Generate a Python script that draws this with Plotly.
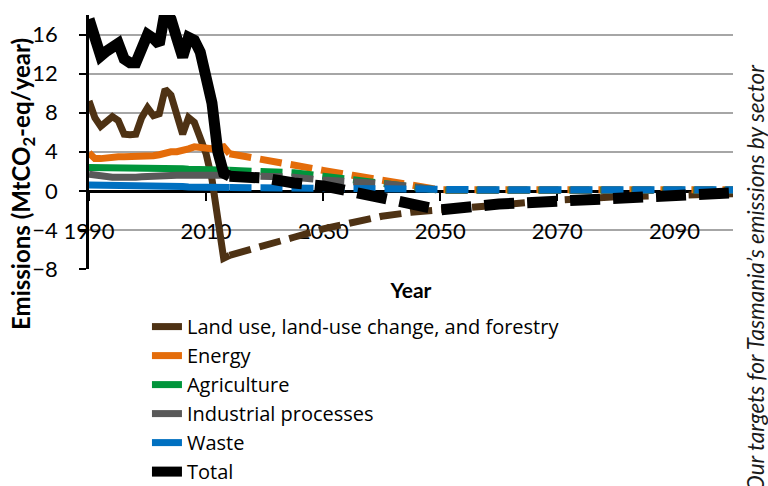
import plotly.graph_objects as go

# ---- data ----
hist_years = list(range(1990, 2015))
proj_years = [2014, 2020, 2025, 2030, 2035, 2040, 2045, 2050, 2060, 2070, 2080, 2090, 2100]

sectors = ["Land use, land-use change, and forestry", "Energy", "Agriculture",
           "Industrial processes", "Waste", "Total"]

lulucf_hist = [9.2, 7.5, 6.6, 7.1, 7.6, 7.2, 5.8, 5.75, 5.8, 7.5, 8.5, 7.7, 7.9, 10.4, 9.8,
               7.8, 5.8, 7.5, 7.0, 5.4, 3.8, 1.2, -3.0, -6.9, -6.6]
energy_hist = [3.9, 3.3, 3.3, 3.4, 3.4, 3.5, 3.5, 3.5, 3.5, 3.5, 3.5, 3.6, 3.7, 3.9, 4.0,
               4.0, 4.1, 4.3, 4.5, 4.4, 4.3, 4.3, 4.4, 4.5, 3.8]
agri_hist = [2.4, 2.4, 2.4, 2.4, 2.4, 2.4, 2.4, 2.35, 2.3, 2.3, 2.3, 2.3, 2.3, 2.3, 2.3,
             2.3, 2.25, 2.2, 2.2, 2.2, 2.2, 2.2, 2.2, 2.2, 2.1]
ind_hist = [1.7, 1.6, 1.5, 1.45, 1.4, 1.4, 1.35, 1.35, 1.4, 1.45, 1.5, 1.5, 1.55, 1.55, 1.6,
            1.6, 1.6, 1.6, 1.6, 1.6, 1.6, 1.6, 1.6, 1.6, 1.6]
waste_hist = [0.6, 0.6, 0.6, 0.6, 0.6, 0.6, 0.55, 0.55, 0.55, 0.55, 0.5, 0.5, 0.5, 0.5, 0.45,
              0.45, 0.45, 0.4, 0.4, 0.4, 0.4, 0.35, 0.35, 0.35, 0.35]
total_hist = [17.6, 15.2, 13.8, 14.3, 14.8, 15.1, 13.5, 13.1, 13.1, 14.5, 16.0, 15.6, 15.0, 18.4, 17.6,
              15.6, 13.7, 15.7, 15.4, 14.2, 11.7, 9.0, 4.0, 1.8, 1.5]

lulucf_proj = [-6.6, -5.5, -4.75, -3.9, -3.3, -2.6, -2.2, -1.95, -1.35, -0.95, -0.6, -0.45, -0.3]
energy_proj = [3.8, 3.1, 2.6, 2.1, 1.6, 1.1, 0.6, 0.1, 0.1, 0.1, 0.1, 0.1, 0.1]
agri_proj = [2.1, 2.05, 1.85, 1.5, 1.15, 0.85, 0.5, 0.05, 0.05, 0.05, 0.05, 0.05, 0.05]
ind_proj = [1.6, 1.55, 1.4, 1.1, 0.95, 0.75, 0.45, 0.05, 0.05, 0.05, 0.05, 0.05, 0.05]
waste_proj = [0.35, 0.3, 0.3, 0.3, 0.3, 0.3, 0.25, 0.12, 0.1, 0.1, 0.1, 0.1, 0.1]
total_proj = [1.5, 1.3, 0.8, 0.5, -0.1, -0.8, -1.4, -1.95, -1.35, -1.0, -0.7, -0.45, -0.2]

hist_values = [lulucf_hist, energy_hist, agri_hist, ind_hist, waste_hist, total_hist]
proj_values = [lulucf_proj, energy_proj, agri_proj, ind_proj, waste_proj, total_proj]

colors = ["#4e3214", "#e46c0a", "#00953b", "#595959", "#0070c0", "#000000"]
widths = [7, 7, 7, 7, 7, 11]
dashes = ["22px,9px"] * 5 + ["30px,13px"]

x_ticks = [1990, 2010, 2030, 2050, 2070, 2090]
y_ticks = [-8, -4, 0, 4, 8, 12, 16]

FONT = "Lato, 'Open Sans', sans-serif"
LEG_FONT = "'Open Sans', Lato, sans-serif"

fig = go.Figure()
for name, hv, pv, c, w, d in zip(sectors, hist_values, proj_values, colors, widths, dashes):
    fig.add_trace(go.Scatter(x=hist_years, y=hv, mode="lines", name=name, legendgroup=name,
                             line=dict(color=c, width=w), showlegend=True, hoverinfo="skip"))
    fig.add_trace(go.Scatter(x=proj_years, y=pv, mode="lines", name=name, legendgroup=name,
                             line=dict(color=c, width=w, dash=d), showlegend=False, hoverinfo="skip"))

fig.update_layout(
    width=768, height=486,
    margin=dict(l=89, r=35, t=15, b=217, autoexpand=False),
    paper_bgcolor="white", plot_bgcolor="white",
    font=dict(family=FONT, color="black", size=20),
    showlegend=True,
    legend=dict(x=0.09, y=-0.15, xanchor="left", yanchor="top",
                font=dict(family=LEG_FONT, size=20, color="black"),
                tracegroupgap=0, bgcolor="rgba(0,0,0,0)", itemwidth=30),
    xaxis=dict(range=[1990, 2100], tickmode="array", tickvals=x_ticks,
               ticktext=[str(v) for v in x_ticks],
               anchor="free", position=8 / 26, showline=True, linecolor="black", linewidth=2.5,
               ticks="outside", ticklen=8, tickwidth=2, tickcolor="black",
               showgrid=False, zeroline=False, layer="below traces",
               tickfont=dict(family=FONT, size=22, color="black"),
               ticklabelstandoff=12, automargin=False,
               title=dict(text="<b>Year</b>", font=dict(family=FONT, size=21, color="black"),
                          standoff=40)),
    yaxis=dict(range=[-8, 18], tickmode="array", tickvals=y_ticks,
               showgrid=True, gridcolor="#a6a6a6", gridwidth=1.5,
               showline=True, linecolor="black", linewidth=2.5,
               ticks="outside", ticklen=7, tickwidth=2, tickcolor="black",
               zeroline=False, layer="below traces",
               tickfont=dict(family=FONT, size=22, color="black"),
               ticklabelstandoff=17, automargin=False),
    annotations=[
        dict(text="<b>Emissions (MtCO<sub>2</sub>-eq/year)</b>", xref="paper", yref="paper",
             x=(23 - 89) / 644, y=(269 - 184) / 254, xanchor="center", yanchor="middle",
             textangle=-90, showarrow=False, font=dict(family=FONT, size=24, color="black")),
        dict(text="<i>Our targets for Tasmania\u2019s emissions by sector</i>", xref="paper", yref="paper",
             x=(755 - 89) / 644, y=(269 - 62) / 254, xanchor="center", yanchor="top",
             textangle=-90, showarrow=False, font=dict(family=FONT, size=22.5, color="#1a1a1a")),
    ],
)

fig.write_html("out.html")
